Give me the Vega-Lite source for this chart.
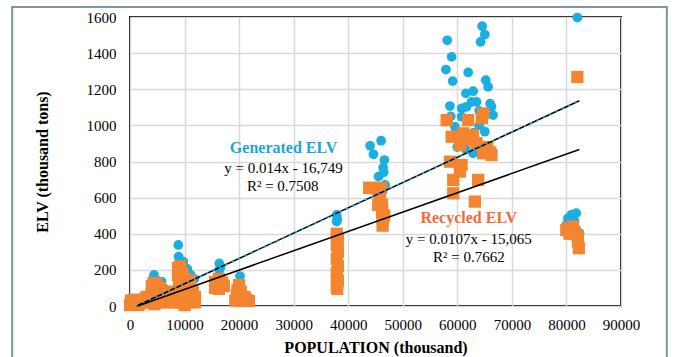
{
  "$schema": "https://vega.github.io/schema/vega-lite/v6.json",
  "width": 491,
  "height": 289,
  "autosize": {"type": "none"},
  "padding": {"left": 130, "top": 17, "right": 53, "bottom": 51},
  "background": "white",
  "config": {
    "view": {"stroke": "black", "strokeWidth": 2},
    "font": "Liberation Serif"
  },
  "datasets": {
    "gen": [
      {"x":300,"y":10},{"x":800,"y":20},{"x":1500,"y":30},{"x":2200,"y":35},{"x":2800,"y":45},
      {"x":4400,"y":172},{"x":4200,"y":150},{"x":5000,"y":140},{"x":5800,"y":135},{"x":6200,"y":100},{"x":6600,"y":80},{"x":7200,"y":70},
      {"x":8850,"y":338},{"x":8900,"y":273},{"x":9770,"y":245},{"x":9000,"y":230},{"x":10500,"y":205},{"x":11120,"y":172},{"x":11800,"y":150},
      {"x":16370,"y":236},{"x":16370,"y":199},{"x":16600,"y":215},
      {"x":20160,"y":166},
      {"x":37890,"y":504},{"x":37890,"y":467},{"x":38000,"y":480},
      {"x":44020,"y":887},{"x":46030,"y":915},{"x":44620,"y":840},{"x":46630,"y":808},{"x":46400,"y":766},{"x":45540,"y":716},{"x":46760,"y":670},{"x":46500,"y":740},
      {"x":58150,"y":1471},{"x":64550,"y":1549},{"x":65040,"y":1503},{"x":64260,"y":1462},{"x":58950,"y":1379},{"x":57910,"y":1309},{"x":61990,"y":1293},{"x":59140,"y":1245},{"x":65220,"y":1250},{"x":65640,"y":1213},{"x":61570,"y":1177},{"x":62900,"y":1189},{"x":58640,"y":1107},{"x":60780,"y":1094},{"x":62610,"y":1130},{"x":63520,"y":1130},{"x":66260,"y":1103},{"x":61690,"y":1103},{"x":66550,"y":1057},{"x":60780,"y":1048},{"x":65040,"y":965},{"x":62900,"y":845},{"x":59550,"y":992},{"x":60000,"y":880},{"x":61000,"y":950},{"x":63000,"y":960},{"x":64000,"y":1000},{"x":61500,"y":870},{"x":58800,"y":1050},{"x":64000,"y":1080},{"x":66000,"y":1120},
      {"x":80890,"y":504},{"x":81800,"y":514},{"x":80270,"y":486},{"x":79970,"y":449},{"x":82400,"y":403},{"x":81500,"y":470},{"x":82000,"y":1597}
    ],
    "rec": [
      {"x":0,"y":5},{"x":300,"y":15},{"x":600,"y":8},{"x":900,"y":20},{"x":1200,"y":10},{"x":1500,"y":25},{"x":1800,"y":15},{"x":2100,"y":30},{"x":2400,"y":20},{"x":2700,"y":35},{"x":3000,"y":25},{"x":200,"y":30},{"x":700,"y":35},{"x":1500,"y":5},
      {"x":3000,"y":50},{"x":3500,"y":20},{"x":4000,"y":30},{"x":4000,"y":70},{"x":4000,"y":110},{"x":4300,"y":127},{"x":4800,"y":125},{"x":5000,"y":90},{"x":5000,"y":50},{"x":5500,"y":100},{"x":5500,"y":60},{"x":5500,"y":20},{"x":6000,"y":80},{"x":6000,"y":40},{"x":6500,"y":50},{"x":6500,"y":20},{"x":7000,"y":30},{"x":7000,"y":60},{"x":7500,"y":40},{"x":7500,"y":80},{"x":8000,"y":60},{"x":8000,"y":20},{"x":4500,"y":10},
      {"x":8800,"y":210},{"x":9200,"y":220},{"x":8800,"y":170},{"x":9600,"y":180},{"x":9000,"y":140},{"x":9500,"y":120},{"x":10000,"y":150},{"x":9000,"y":100},{"x":10000,"y":90},{"x":10500,"y":110},{"x":9200,"y":60},{"x":10000,"y":40},{"x":11000,"y":60},{"x":11000,"y":100},{"x":11500,"y":80},{"x":9000,"y":20},{"x":10000,"y":5},{"x":11000,"y":20},{"x":11900,"y":50},{"x":11900,"y":20},{"x":8500,"y":40},{"x":11000,"y":140},
      {"x":15600,"y":133},{"x":16300,"y":150},{"x":16900,"y":130},{"x":15600,"y":100},{"x":16300,"y":95},{"x":17200,"y":110},{"x":16500,"y":120},
      {"x":20000,"y":116},{"x":19700,"y":90},{"x":20300,"y":80},{"x":19600,"y":60},{"x":20100,"y":40},{"x":19300,"y":30},{"x":20500,"y":28},{"x":21300,"y":35},{"x":21800,"y":28},{"x":21000,"y":50},
      {"x":37900,"y":400},{"x":38100,"y":370},{"x":37900,"y":340},{"x":38100,"y":300},{"x":37900,"y":260},{"x":38100,"y":220},{"x":37900,"y":180},{"x":38100,"y":140},{"x":37900,"y":110},{"x":38000,"y":95},
      {"x":43840,"y":654},{"x":44500,"y":654},{"x":45200,"y":650},{"x":46030,"y":654},{"x":45800,"y":600},{"x":46200,"y":560},{"x":46200,"y":520},{"x":46300,"y":480},{"x":46300,"y":445},{"x":45500,"y":560},{"x":46600,"y":500},
      {"x":58040,"y":1029},{"x":61990,"y":1029},{"x":64730,"y":1066},{"x":64500,"y":1040},{"x":58950,"y":937},{"x":61080,"y":956},{"x":62900,"y":946},{"x":60470,"y":891},{"x":63520,"y":901},{"x":64730,"y":845},{"x":66260,"y":836},{"x":58640,"y":799},{"x":60780,"y":781},{"x":60470,"y":744},{"x":59250,"y":698},{"x":59250,"y":624},{"x":63820,"y":698},{"x":63210,"y":578},{"x":62000,"y":920},{"x":65500,"y":880},{"x":66000,"y":850},
      {"x":79970,"y":421},{"x":81180,"y":440},{"x":80570,"y":400},{"x":82090,"y":357},{"x":82270,"y":320},{"x":82100,"y":385},{"x":80500,"y":430},{"x":81500,"y":410},{"x":82000,"y":1268}
    ],
    "gl": [{"x":1196,"y":0},{"x":82360,"y":1136.3}],
    "rl": [{"x":1408,"y":0},{"x":82360,"y":866.2}]
  },
  "encoding": {
    "x": {
      "field": "x", "type": "quantitative",
      "scale": {"domain": [0, 90000], "nice": false, "zero": false},
      "axis": {
        "title": "POPULATION (thousand)",
        "values": [0,10000,20000,30000,40000,50000,60000,70000,80000,90000],
        "format": "d", "labelOverlap": false, "labelFlush": false,
        "grid": true, "gridColor": "#d9d9d9", "gridWidth": 1.5,
        "domain": false, "ticks": false,
        "labelFont": "Liberation Serif", "labelFontSize": 15, "labelColor": "black", "labelPadding": 11,
        "titleFont": "Liberation Serif", "titleFontSize": 16, "titleFontWeight": "bold", "titleColor": "black",
        "titleY": 41, "titleBaseline": "middle"
      }
    },
    "y": {
      "field": "y", "type": "quantitative",
      "scale": {"domain": [0, 1600], "nice": false, "zero": false},
      "axis": {
        "title": "ELV (thousand tons)",
        "values": [0,200,400,600,800,1000,1200,1400,1600],
        "format": "d", "labelOverlap": false, "labelFlush": false,
        "grid": true, "gridColor": "#d9d9d9", "gridWidth": 1.5,
        "domain": false, "ticks": false,
        "labelFont": "Liberation Serif", "labelFontSize": 15, "labelColor": "black", "labelPadding": 14,
        "titleFont": "Liberation Serif", "titleFontSize": 16, "titleFontWeight": "bold", "titleColor": "black",
        "titleX": -88, "titleBaseline": "middle"
      }
    }
  },
  "layer": [
    {
      "data": {"values": [{"x0": -21600, "x1": 98400, "y0": 1655, "y1": -330}]},
      "mark": {"type": "rect", "fill": null, "fillOpacity": 0, "stroke": "#7d95a7", "strokeWidth": 2, "clip": false},
      "encoding": {
        "x": {"field": "x0", "type": "quantitative"},
        "x2": {"field": "x1"},
        "y": {"field": "y0", "type": "quantitative"},
        "y2": {"field": "y1"}
      }
    },
    {
      "data": {"name": "gen"},
      "mark": {"type": "point", "shape": "circle", "filled": true, "size": 95, "color": "#1aaee2", "opacity": 1}
    },
    {
      "data": {"name": "rec"},
      "mark": {"type": "point", "shape": "square", "filled": true, "size": 150, "color": "#f4842f", "opacity": 1}
    },
    {
      "data": {"name": "gl"},
      "mark": {"type": "line", "color": "black", "strokeWidth": 1.5}
    },
    {
      "data": {"name": "gl"},
      "mark": {"type": "line", "color": "#1aaee2", "strokeWidth": 2, "strokeDash": [2, 5]}
    },
    {
      "data": {"name": "rl"},
      "mark": {"type": "line", "color": "black", "strokeWidth": 1.5}
    },
    {
      "data": {"values": [{"x": 28150, "y": 874, "t": "Generated ELV"}]},
      "mark": {"type": "text", "font": "Liberation Serif", "fontSize": 16, "fontWeight": "bold", "color": "#1ca4dc", "baseline": "middle", "align": "center"},
      "encoding": {"text": {"field": "t"}}
    },
    {
      "data": {"values": [{"x": 62100, "y": 487, "t": "Recycled ELV"}]},
      "mark": {"type": "text", "font": "Liberation Serif", "fontSize": 16, "fontWeight": "bold", "color": "#f06c3c", "baseline": "middle", "align": "center"},
      "encoding": {"text": {"field": "t"}}
    },
    {
      "data": {"values": [
        {"x": 28150, "y": 764, "t": "y = 0.014x - 16,749"},
        {"x": 28000, "y": 665, "t": "R² = 0.7508"},
        {"x": 62100, "y": 372, "t": "y = 0.0107x - 15,065"},
        {"x": 62100, "y": 272, "t": "R² = 0.7662"}
      ]},
      "mark": {"type": "text", "font": "Liberation Serif", "fontSize": 15, "color": "black", "baseline": "middle", "align": "center"},
      "encoding": {"text": {"field": "t"}}
    }
  ]
}
